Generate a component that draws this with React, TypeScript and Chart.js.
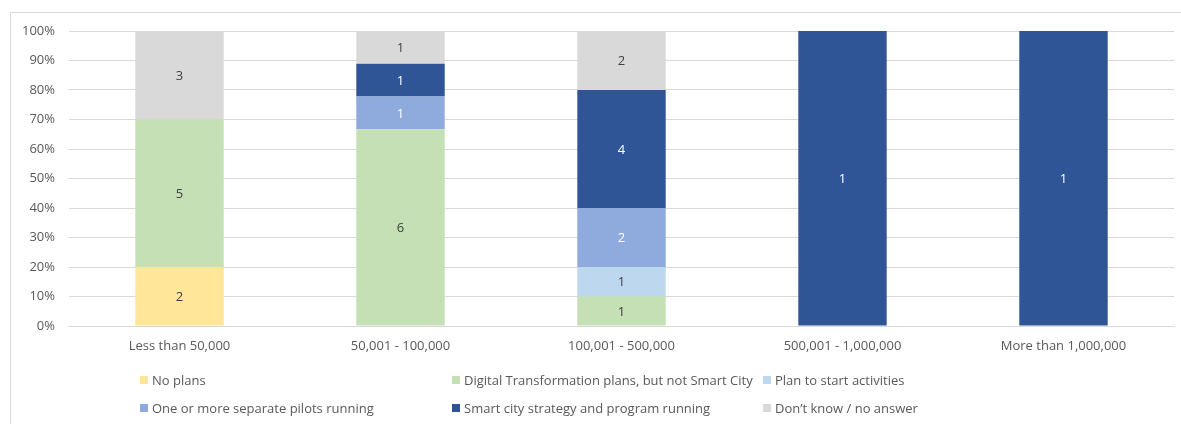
import React, { useEffect, useRef } from "react";
import { Chart, registerables } from "chart.js";

Chart.register(...registerables);

const categories = ["Less than 50,000", "50,001 - 100,000", "100,001 - 500,000", "500,001 - 1,000,000", "More than 1,000,000"];
const noPlans = [2, 0, 0, 0, 0];
const digitalTransformation = [5, 6, 1, 0, 0];
const planToStart = [0, 0, 1, 0, 0];
const pilotsRunning = [0, 1, 2, 0, 0];
const smartCityStrategy = [0, 1, 4, 1, 1];
const dontKnow = [3, 1, 2, 0, 0];

const seriesNames = [
  "No plans",
  "Digital Transformation plans, but not Smart City",
  "Plan to start activities",
  "One or more separate pilots running",
  "Smart city strategy and program running",
  "Don\u2019t know / no answer",
];
const seriesValues = [noPlans, digitalTransformation, planToStart, pilotsRunning, smartCityStrategy, dontKnow];
const seriesColors = ["#FFE699", "#C5E0B4", "#BDD7EE", "#8FAADC", "#2F5597", "#D9D9D9"];
const labelColors = ["#404040", "#404040", "#404040", "#FFFFFF", "#FFFFFF", "#404040"];

const FONT = "'Open Sans', 'Noto Sans', sans-serif";

const totals = categories.map((_, i) => seriesValues.reduce((s, arr) => s + arr[i], 0));

const valueLabelPlugin = {
  id: "valueLabels",
  afterDatasetsDraw(chart: any) {
    const ctx = chart.ctx;
    ctx.save();
    ctx.font = `13px ${FONT}`;
    ctx.textAlign = "center";
    ctx.textBaseline = "middle";
    chart.data.datasets.forEach((ds: any, di: number) => {
      const meta = chart.getDatasetMeta(di);
      meta.data.forEach((bar: any, i: number) => {
        const count = seriesValues[di][i];
        if (!count) return;
        const y = (bar.y + bar.base) / 2;
        ctx.fillStyle = labelColors[di];
        ctx.fillText(String(count), bar.x, y + 1);
      });
    });
    ctx.restore();
  },
};

const legendPlugin = {
  id: "gridLegend",
  afterDraw(chart: any) {
    const ctx = chart.ctx;
    ctx.save();
    // frame
    ctx.strokeStyle = "#D9D9D9";
    ctx.lineWidth = 1;
    ctx.beginPath();
    ctx.moveTo(10.5, 440);
    ctx.lineTo(10.5, 12.5);
    ctx.lineTo(1200, 12.5);
    ctx.stroke();

    const colX = [140, 452, 763];
    const rowY = [380, 408];
    ctx.font = `13px ${FONT}`;
    ctx.textBaseline = "middle";
    ctx.textAlign = "left";
    seriesNames.forEach((name, i) => {
      const x = colX[i % 3];
      const y = rowY[Math.floor(i / 3)];
      ctx.fillStyle = seriesColors[i];
      ctx.fillRect(x, y - 4, 8, 8);
      ctx.fillStyle = "#595959";
      ctx.fillText(name, x + 12, y + 1);
    });
    ctx.restore();
  },
};

export default function App() {
  const canvasRef = useRef<HTMLCanvasElement | null>(null);

  useEffect(() => {
    if (!canvasRef.current) return;
    const chart = new Chart(canvasRef.current, {
      type: "bar",
      data: {
        labels: categories,
        datasets: seriesValues.map((vals, di) => ({
          label: seriesNames[di],
          data: vals.map((v, i) => (v / totals[i]) * 100),
          backgroundColor: seriesColors[di],
          borderWidth: 0,
          barPercentage: 0.4,
          categoryPercentage: 1,
        })),
      },
      options: {
        animation: false,
        responsive: true,
        maintainAspectRatio: false,
        layout: { padding: { left: 20, right: 7, top: 31, bottom: 68 } },
        plugins: {
          legend: { display: false },
          tooltip: { enabled: false },
          title: { display: false },
        },
        scales: {
          x: {
            stacked: true,
            grid: { display: false, drawTicks: false },
            border: { display: true, color: "#D9D9D9" },
            ticks: { color: "#595959", font: { family: FONT, size: 13 }, padding: 12, maxRotation: 0 },
            afterFit(scale: any) {
              scale.height = 30;
            },
          },
          y: {
            stacked: true,
            min: 0,
            max: 100,
            grid: { color: "#D9D9D9", drawTicks: false },
            border: { display: false },
            ticks: {
              stepSize: 10,
              color: "#595959",
              font: { family: FONT, size: 13 },
              padding: 14,
              callback: (v: any) => `${v}%`,
            },
            afterFit(scale: any) {
              scale.width = 49;
            },
          },
        },
      },
      plugins: [valueLabelPlugin, legendPlugin],
    });
    return () => chart.destroy();
  }, []);

  return (
    <div style={{ position: "absolute", left: 0, top: 0, width: 1181, height: 424, background: "#FFFFFF" }}>
      <canvas ref={canvasRef} />
    </div>
  );
}
